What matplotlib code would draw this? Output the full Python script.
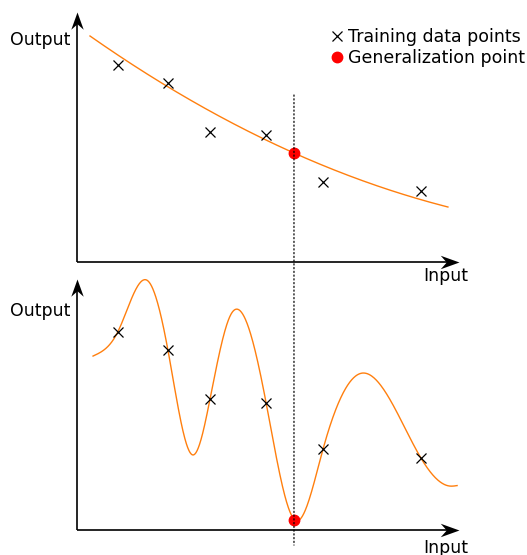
import numpy as np
import matplotlib
matplotlib.use("Agg")
import matplotlib.pyplot as plt
from matplotlib.patches import ConnectionPatch
from matplotlib.path import Path

# Training data (same samples shown in both panels)
train_x = [1.07, 2.38, 3.48, 4.95, 6.44, 9.01]
train_y = [7.90, 7.17, 5.20, 5.07, 3.22, 2.85]

# Query input where both models are evaluated
gen_x = 5.68
gen_y_simple = 4.36
gen_y_complex = 0.40

# Simple model: smooth decreasing curve through these readings
simple_x = [0.34, 5.68, 9.71]
simple_y = [9.04, 4.36, 2.20]

# Complex model: knots of an over-fitted curve (turning points and samples)
complex_x = [0.42, 1.07, 1.86, 2.38, 3.04, 3.48, 4.04, 4.95, 5.72, 6.44, 7.46, 9.01, 9.76, 9.95]
complex_y = [6.93, 7.90, 9.92, 7.17, 2.99, 5.20, 8.62, 5.07, 0.38, 3.22, 6.25, 2.85, 1.75, 1.77]

ORANGE = "#ff7f0e"
FS = 12.5


def natural_spline(xk, yk, n=80):
    """Natural cubic spline through the knots, sampled densely."""
    x = np.asarray(xk, float)
    y = np.asarray(yk, float)
    k = len(x)
    h = np.diff(x)
    A = np.zeros((k, k))
    b = np.zeros(k)
    A[0, 0] = A[-1, -1] = 1.0
    for i in range(1, k - 1):
        A[i, i - 1] = h[i - 1]
        A[i, i] = 2 * (h[i - 1] + h[i])
        A[i, i + 1] = h[i]
        b[i] = 6 * ((y[i + 1] - y[i]) / h[i] - (y[i] - y[i - 1]) / h[i - 1])
    M = np.linalg.solve(A, b)
    xs, ys = [], []
    for i in range(k - 1):
        t = np.linspace(x[i], x[i + 1], n)
        a = x[i + 1] - t
        c = t - x[i]
        s = (M[i] * a**3 + M[i + 1] * c**3) / (6 * h[i]) \
            + (y[i] / h[i] - M[i] * h[i] / 6) * a \
            + (y[i + 1] / h[i] - M[i + 1] * h[i] / 6) * c
        xs.append(t)
        ys.append(s)
    return np.concatenate(xs), np.concatenate(ys)


def stealth(angle_deg):
    verts = np.array([[0, 0], [-1, 0.36], [-0.68, 0], [-1, -0.36], [0, 0]])
    th = np.deg2rad(angle_deg)
    R = np.array([[np.cos(th), -np.sin(th)], [np.sin(th), np.cos(th)]])
    verts = verts @ R.T
    codes = [Path.MOVETO, Path.LINETO, Path.LINETO, Path.LINETO, Path.CLOSEPOLY]
    return Path(verts, codes)


W, H = 527, 555
fig = plt.figure(figsize=(W / 100, H / 100), dpi=100)

def px_axes(left, right, bottom, top):
    return fig.add_axes([left / W, 1 - bottom / H, (right - left) / W, (bottom - top) / H])

ax_top = px_axes(77, 459, 262, 12)
ax_bot = px_axes(77, 459, 530, 279)

HEAD_MS = 27
for ax, height_px in ((ax_top, 250), (ax_bot, 251)):
    ax.set_xlim(0, 10)
    ax.set_ylim(0, 10)
    ax.axis("off")
    x_stop = 10 - 10 * 11 / 382
    y_stop = 10 - 10 * 10 / height_px
    ax.plot([0, x_stop], [0, 0], color="black", lw=1.2, clip_on=False,
            solid_capstyle="butt")
    ax.plot([0, 0], [0, y_stop], color="black", lw=1.2, clip_on=False,
            solid_capstyle="butt")
    ax.plot([10], [0], marker=stealth(0), ms=HEAD_MS, color="black", mew=0,
            clip_on=False)
    ax.plot([0], [10], marker=stealth(90), ms=HEAD_MS * 0.92, color="black", mew=0,
            clip_on=False)

# Top panel: simple model
coef = np.polyfit(simple_x, simple_y, 2)
sx = np.linspace(simple_x[0], simple_x[-1], 300)
ax_top.plot(sx, np.polyval(coef, sx), color=ORANGE, lw=1.0, clip_on=False)
ax_top.plot(train_x, train_y, "x", color="black", ms=6.5, mew=0.9, clip_on=False,
            label="Training data points")
ax_top.plot([gen_x], [gen_y_simple], "o", color="red", ms=7.5, clip_on=False, zorder=5,
            label="Generalization point")
ax_top.text(-0.18, 8.68, "Output", ha="right", va="baseline", fontsize=FS)
ax_top.text(9.65, -0.76, "Input", ha="center", va="baseline", fontsize=FS)

# Bottom panel: over-fitted model
cx, cy = natural_spline(complex_x, complex_y)
ax_bot.plot(cx, cy, color=ORANGE, lw=1.0, clip_on=False)
ax_bot.plot(train_x, train_y, "x", color="black", ms=6.5, mew=0.9, clip_on=False)
ax_bot.plot([gen_x], [gen_y_complex], "o", color="red", ms=7.5, clip_on=False, zorder=5)
ax_bot.text(-0.18, 8.53, "Output", ha="right", va="baseline", fontsize=FS)
ax_bot.text(9.65, -0.92, "Input", ha="center", va="baseline", fontsize=FS)

# Vertical guide through the query input, spanning both panels
guide = ConnectionPatch(xyA=(gen_x, 6.68), coordsA=ax_top.transData,
                        xyB=(gen_x, -0.6), coordsB=ax_bot.transData,
                        color="black", lw=0.9, linestyle=(0, (1, 2)), zorder=1)
fig.add_artist(guide)

fig.legend(loc="upper left", bbox_to_anchor=(331.8 / W, 1 - 28 / H),
           bbox_transform=fig.transFigure, frameon=False, fontsize=FS,
           handlelength=0.6, handletextpad=0.33, labelspacing=0.15,
           borderpad=0, borderaxespad=0, numpoints=1)

fig.savefig("out.png", dpi=100)
